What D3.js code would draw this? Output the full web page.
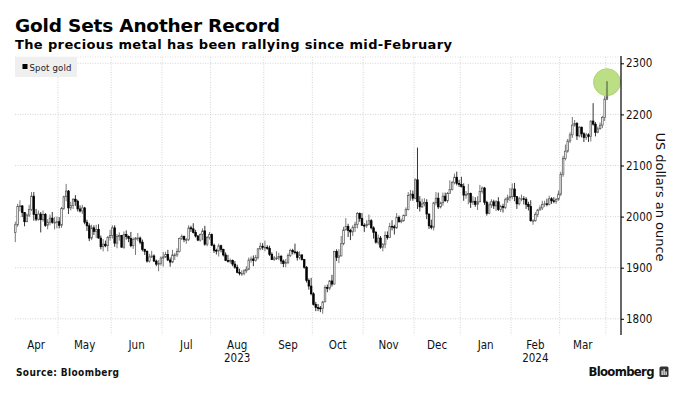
<!DOCTYPE html>
<html><head><meta charset="utf-8">
<script src="https://cdn.jsdelivr.net/npm/d3@7"></script>
<style>html,body{margin:0;padding:0;background:#fff;}svg{display:block;}</style>
</head><body>
<svg id="chart" width="684" height="397"></svg>
<script>
// ---- data (spot gold daily OHLC, USD/oz) ----
const months = ["2023-04","2023-05","2023-06","2023-07","2023-08","2023-09","2023-10","2023-11","2023-12","2024-01","2024-02","2024-03","2024-04"];
const monthDays = [
  [3,4,5,6,10,11,12,13,14,17,18,19,20,21,24,25,26,27,28],
  [1,2,3,4,5,8,9,10,11,12,15,16,17,18,19,22,23,24,25,26,29,30,31],
  [1,2,5,6,7,8,9,12,13,14,15,16,19,20,21,22,23,26,27,28,29,30],
  [3,4,5,6,7,10,11,12,13,14,17,18,19,20,21,24,25,26,27,28,31],
  [1,2,3,4,7,8,9,10,11,14,15,16,17,18,21,22,23,24,25,28,29,30,31],
  [1,4,5,6,7,8,11,12,13,14,15,18,19,20,21,22,25,26,27,28,29],
  [2,3,4,5,6,9,10,11,12,13,16,17,18,19,20,23,24,25,26,27,30,31],
  [1,2,3,6,7,8,9,10,13,14,15,16,17,20,21,22,23,24,27,28,29,30],
  [1,4,5,6,7,8,11,12,13,14,15,18,19,20,21,22,26,27,28,29],
  [2,3,4,5,8,9,10,11,12,15,16,17,18,19,22,23,24,25,26,29,30,31],
  [1,2,5,6,7,8,9,12,13,14,15,16,19,20,21,22,23,26,27,28,29],
  [1,4,5,6,7,8,11,12,13,14,15,18,19,20,21,22,25,26,27,28],
  [1]
];
const openPx = [
  1969,1984,2020,2021,2008,1990,2003,2014,2040,2004,1995,2005,1994,2004,1983,1989,1997,1989,1989,
  1990,1983,2016,2039,2050,2017,2022,2034,2030,2015,2011,2017,1989,1982,1958,1978,1971,1975,1958,1941,1946,1943,1959,
  1963,1978,1948,1961,1963,1940,1965,1961,1957,1943,1955,1958,1958,1950,1936,1932,1913,1921,1923,1913,1907,1908,
  1919,1921,1926,1915,1911,1925,1925,1932,1957,1961,1955,1955,1978,1976,1969,1962,1954,1965,1972,1946,1959,
  1965,1944,1934,1933,1943,1936,1925,1914,1913,1914,1907,1901,1891,1889,1889,1894,1897,1915,1917,1914,1920,1937,1942,
  1940,1940,1938,1926,1916,1919,1919,1922,1913,1908,1910,1924,1934,1931,1930,1920,1925,1916,1901,1875,1864,
  1849,1828,1822,1821,1820,1833,1861,1860,1874,1868,1932,1920,1923,1947,1974,1981,1973,1970,1979,1985,2006,1996,
  1983,1982,1985,1992,1978,1969,1950,1958,1940,1946,1963,1959,1981,1980,1978,1998,1990,1992,2002,2014,2041,2044,
  2036,2072,2029,2019,2025,2028,2005,1982,1979,2027,2036,2019,2027,2040,2031,2045,2053,2067,2077,2065,
  2063,2059,2042,2043,2045,2028,2030,2024,2029,2049,2056,2028,2006,2023,2029,2021,2029,2014,2020,2018,2033,2037,
  2039,2054,2039,2025,2035,2035,2034,2024,2020,1992,1992,2004,2013,2017,2024,2025,2024,2035,2031,2030,2034,
  2044,2083,2114,2128,2148,2160,2179,2182,2158,2175,2162,2155,2160,2157,2187,2181,2165,2172,2179,2194,
  2232
];
const highPx = [
  1990,2025,2032,2022,2009,2006,2023,2048,2048,2015,2012,2009,2012,2007,1995,2004,2009,1999,2000,
  1999,2019,2041,2064,2052,2029,2036,2042,2033,2022,2023,2019,1994,1987,1984,1983,1984,1985,1963,1956,1953,1962,1974,
  1983,1983,1966,1969,1964,1971,1973,1963,1970,1959,1960,1968,1961,1955,1937,1934,1927,1933,1926,1916,1915,1922,
  1931,1931,1935,1920,1935,1929,1938,1959,1965,1963,1958,1983,1982,1987,1974,1964,1967,1977,1982,1962,1970,
  1967,1947,1937,1947,1945,1937,1930,1925,1918,1916,1913,1906,1898,1895,1897,1903,1920,1922,1924,1925,1938,1949,1948,
  1953,1944,1943,1930,1923,1932,1929,1925,1916,1917,1928,1937,1937,1947,1933,1932,1926,1917,1903,1879,1880,
  1852,1833,1829,1825,1835,1866,1867,1876,1886,1933,1936,1936,1962,1980,1997,1986,1976,1983,1990,2009,2008,2007,
  1987,1993,2004,1995,1981,1972,1965,1962,1948,1971,1971,1988,1993,1984,2007,2002,1996,2004,2018,2048,2052,2051,
  2075,2135,2040,2035,2036,2034,2006,1994,2029,2048,2047,2029,2047,2047,2048,2071,2070,2084,2088,2072,
  2078,2065,2050,2064,2047,2040,2038,2040,2062,2059,2058,2031,2028,2034,2033,2032,2038,2023,2025,2037,2043,2056,
  2065,2066,2040,2039,2043,2040,2038,2029,2032,1995,2009,2015,2022,2031,2031,2035,2041,2038,2038,2036,2051,
  2088,2119,2141,2152,2165,2195,2189,2185,2177,2176,2165,2164,2163,2188,2222,2185,2176,2184,2197,2236,
  2265
];
const lowPx = [
  1950,1980,2010,1999,1981,1989,1999,2011,1992,1991,1992,1969,1990,1980,1975,1983,1986,1975,1977,
  1977,1978,2013,2030,2005,2012,2015,2021,2010,2008,2005,1985,1972,1952,1954,1964,1958,1957,1936,1932,1940,1932,1953,
  1957,1941,1938,1953,1940,1937,1955,1950,1940,1937,1925,1952,1946,1932,1925,1910,1910,1919,1911,1903,1893,1904,
  1902,1919,1913,1902,1909,1915,1921,1930,1954,1950,1947,1952,1970,1967,1959,1952,1951,1954,1943,1942,1955,
  1942,1929,1926,1922,1930,1922,1913,1910,1908,1903,1898,1889,1885,1884,1885,1890,1895,1910,1903,1912,1916,1934,1935,
  1932,1935,1923,1915,1913,1915,1915,1907,1901,1901,1907,1921,1926,1926,1914,1916,1914,1898,1871,1857,1846,
  1826,1815,1815,1813,1810,1833,1852,1856,1863,1867,1913,1909,1922,1944,1973,1960,1954,1962,1970,1977,1990,1982,
  1970,1978,1983,1975,1957,1947,1945,1937,1932,1938,1955,1958,1973,1965,1976,1988,1987,1990,2001,2012,2031,2031,
  2034,2015,2010,2017,2020,1995,1976,1975,1973,2022,2015,2016,2021,2029,2027,2045,2051,2063,2061,2058,
  2057,2031,2035,2024,2017,2023,2019,2013,2028,2045,2023,2002,2005,2017,2015,2011,2011,2009,2008,2015,2027,2030,
  2034,2030,2015,2022,2030,2024,2015,2012,1990,1984,1990,1999,2012,2013,2019,2020,2022,2025,2026,2025,2031,
  2040,2078,2110,2125,2144,2154,2176,2150,2155,2155,2146,2150,2146,2147,2178,2157,2163,2170,2173,2187,
  2228
];
const closePx = [
  1984,2020,2021,2008,1990,2003,2014,2040,2004,1995,2005,1994,2004,1983,1989,1997,1989,1989,1990,
  1983,2016,2039,2050,2017,2022,2034,2030,2015,2011,2017,1989,1982,1958,1978,1971,1975,1958,1941,1946,1943,1959,1963,
  1978,1948,1961,1963,1940,1965,1961,1957,1943,1955,1958,1958,1950,1936,1932,1913,1921,1923,1913,1907,1908,1919,
  1921,1926,1915,1911,1925,1925,1932,1957,1961,1955,1955,1978,1976,1969,1962,1954,1965,1972,1946,1959,1965,
  1944,1934,1933,1943,1936,1925,1914,1913,1914,1907,1901,1891,1889,1889,1894,1897,1915,1917,1914,1920,1937,1942,1940,
  1940,1938,1926,1916,1919,1919,1922,1913,1908,1910,1924,1934,1931,1930,1920,1925,1916,1901,1875,1864,1849,
  1828,1822,1821,1820,1833,1861,1860,1874,1868,1932,1920,1923,1947,1974,1981,1973,1970,1979,1985,2006,1996,1983,
  1982,1985,1992,1978,1969,1950,1958,1940,1946,1963,1959,1981,1980,1978,1998,1990,1992,2002,2014,2041,2044,2036,
  2072,2029,2019,2025,2028,2005,1982,1979,2027,2036,2019,2027,2040,2031,2045,2053,2067,2077,2065,2063,
  2059,2042,2043,2045,2028,2030,2024,2029,2049,2056,2028,2006,2023,2029,2021,2029,2014,2020,2018,2033,2037,2039,
  2054,2039,2025,2035,2035,2034,2024,2020,1992,1992,2004,2013,2017,2024,2025,2024,2035,2031,2030,2034,2044,
  2083,2114,2128,2148,2160,2179,2182,2158,2175,2162,2155,2160,2157,2187,2181,2165,2172,2179,2194,2230,
  2250
];
const monthLabels = ["Apr","May","Jun","Jul","Aug","Sep","Oct","Nov","Dec","Jan","Feb","Mar"];
const yearLabels = ["2023","2024"];
const yearUnderMonth = ["2023-08","2024-02"];
const yTicks = [1800,1900,2000,2100,2200,2300];
const seriesName = "Spot gold";

// ---- build ----
const dates = months.flatMap((m,i)=>monthDays[i].map(d=>m+"-"+String(d).padStart(2,"0")));
const data = dates.map((d,i)=>({date:d,o:openPx[i],h:highPx[i],l:lowPx[i],c:closePx[i]}));
const n = data.length;

const svg = d3.select("#chart");
const FONT = "'DejaVu Sans', sans-serif";
const FONTC = "'DejaVu Sans Condensed', 'DejaVu Sans', sans-serif";
const plotL = 15, plotR = 621, plotT = 57, plotB = 335;

const x = d3.scaleLinear().domain([0, n-1]).range([15.3, 607]);
const y = d3.scaleLinear().domain([1800, 2300]).range([318.8, 63.3]);

const monthStart = months.map(m => dates.findIndex(d => d.startsWith(m)));

// gridlines
const grid = svg.append("g");
grid.selectAll("line.h").data(yTicks).join("line")
  .attr("x1", plotL).attr("x2", plotR)
  .attr("y1", d=>y(d)).attr("y2", d=>y(d))
  .attr("stroke", "#c9c9c9").attr("stroke-width", 0.8).attr("stroke-dasharray", "1,1.5");
grid.append("line").attr("x1", plotL).attr("x2", plotR).attr("y1", plotT).attr("y2", plotT)
  .attr("stroke", "#dcdcdc").attr("stroke-width", 0.8).attr("stroke-dasharray", "1,1.5");
grid.selectAll("line.v").data(monthStart.slice(1)).join("line")
  .attr("x1", d=>x(d-0.5)).attr("x2", d=>x(d-0.5))
  .attr("y1", plotT).attr("y2", plotB)
  .attr("stroke", "#c9c9c9").attr("stroke-width", 0.8).attr("stroke-dasharray", "1,1.5");

// legend
const lg = svg.append("g");
lg.append("rect").attr("x", 15).attr("y", 57).attr("width", 62).attr("height", 20).attr("fill", "#efefef");
lg.append("rect").attr("x", 22.5).attr("y", 64).attr("width", 5).attr("height", 5).attr("fill", "#000");
lg.append("text").attr("x", 29.5).attr("y", 70.5).attr("font-family", FONTC).attr("font-size", 9.5)
  .attr("textLength", 42).attr("fill", "#222").text(seriesName);

// candles
const bw = 1.6;
const upCol = "#555", dnCol = "#000";
const cg = svg.append("g");
cg.selectAll("line.w").data(data).join("line")
  .attr("x1", (d,i)=>x(i)).attr("x2", (d,i)=>x(i))
  .attr("y1", d=>y(d.h)).attr("y2", d=>y(d.l))
  .attr("stroke", d=> d.c>=d.o ? upCol : dnCol).attr("stroke-width", 0.8);
cg.selectAll("rect.b").data(data).join("rect")
  .attr("x", (d,i)=>x(i)-bw/2).attr("width", bw)
  .attr("y", d=>y(Math.max(d.o,d.c)))
  .attr("height", d=>Math.max(0.8, Math.abs(y(d.o)-y(d.c))))
  .attr("fill", d=> d.c>=d.o ? "#fff" : "#000")
  .attr("stroke", d=> d.c>=d.o ? upCol : dnCol).attr("stroke-width", 0.7);

// highlight circle on last candle
const last = data[n-1];
svg.append("circle").attr("cx", x(n-1)).attr("cy", y(last.h)+1).attr("r", 13.5)
  .attr("fill", "#b5dc78").attr("fill-opacity", 0.9).attr("stroke", "#a6d064").attr("stroke-width", 0.8);
svg.append("line").attr("x1", x(n-1)).attr("x2", x(n-1)).attr("y1", y(last.h)).attr("y2", y(last.l))
  .attr("stroke", "#333").attr("stroke-width", 0.8);

// right axis
const ax = svg.append("g").attr("transform", `translate(${plotR},0)`)
  .call(d3.axisRight(y).tickValues(yTicks).tickSize(3).tickPadding(2).tickFormat(d3.format("d")));
ax.select(".domain").remove();
ax.selectAll(".tick line").attr("stroke", "#000");
ax.selectAll(".tick text").attr("font-family", FONTC).attr("font-size", 11.5).attr("fill", "#111");
svg.append("line").attr("x1", plotR).attr("x2", plotR).attr("y1", 56).attr("y2", plotB).attr("stroke", "#000").attr("stroke-width", 1.2);

svg.append("text").attr("transform", "translate(656,197) rotate(90)")
  .attr("text-anchor", "middle").attr("font-family", FONT).attr("font-size", 13)
  .attr("textLength", 129).attr("fill", "#111").text("US dollars an ounce");

// month labels
const labelData = monthLabels.map((lab,i)=>({lab, cx:(x(monthStart[i]-0.5)+x(monthStart[i+1]-0.5))/2, key:months[i]}));
svg.append("g").selectAll("text").data(labelData).join("text")
  .attr("x", d=>d.cx).attr("y", 348.5).attr("text-anchor", "middle")
  .attr("font-family", FONTC).attr("font-size", 11.5).attr("fill", "#111").text(d=>d.lab);
svg.append("g").selectAll("text").data(yearLabels).join("text")
  .attr("x", (d,i)=>labelData.find(l=>l.key===yearUnderMonth[i]).cx).attr("y", 361.5).attr("text-anchor", "middle")
  .attr("font-family", FONTC).attr("font-size", 11.5).attr("fill", "#111").text(d=>d);

// titles
svg.append("text").attr("x", 15).attr("y", 31.5).attr("font-family", FONT).attr("font-weight", "bold")
  .attr("font-size", 18.5).attr("textLength", 265).attr("fill", "#000").text("Gold Sets Another Record");
svg.append("text").attr("x", 15).attr("y", 48.5).attr("font-family", FONT).attr("font-weight", "bold")
  .attr("font-size", 13).attr("textLength", 437).attr("fill", "#000").text("The precious metal has been rallying since mid-February");

// footer
svg.append("text").attr("x", 16).attr("y", 376).attr("font-family", FONTC).attr("font-weight", "bold")
  .attr("font-size", 10).attr("textLength", 103).attr("fill", "#111").text("Source: Bloomberg");
svg.append("text").attr("x", 588.5).attr("y", 376).attr("font-family", FONTC).attr("font-weight", "bold")
  .attr("font-size", 13).attr("textLength", 66).attr("fill", "#111").text("Bloomberg");
const ic = svg.append("g").attr("transform", "translate(659.5,366.5)");
ic.append("rect").attr("width", 9).attr("height", 10.5).attr("rx", 1.5).attr("fill", "#333");
ic.append("rect").attr("x", 2).attr("y", 4).attr("width", 1.2).attr("height", 4.5).attr("fill", "#fff");
ic.append("rect").attr("x", 4).attr("y", 2.5).attr("width", 1.2).attr("height", 6).attr("fill", "#fff");
ic.append("rect").attr("x", 6).attr("y", 5).attr("width", 1.2).attr("height", 3.5).attr("fill", "#fff");
</script>
</body></html>
